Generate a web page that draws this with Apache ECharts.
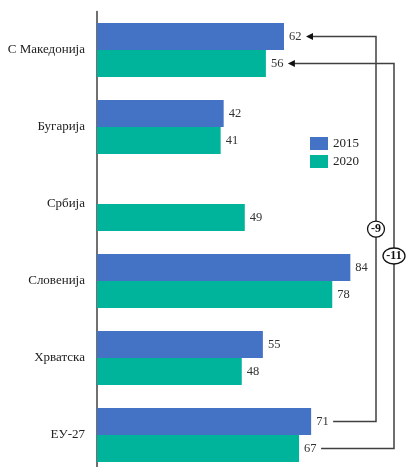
<!DOCTYPE html>
<html>
<head>
<meta charset="utf-8">
<script src="https://cdn.jsdelivr.net/npm/echarts@6/dist/echarts.min.js"></script>
<style>
html,body{margin:0;padding:0;background:#fff;}
#main{width:406px;height:467px;}
</style>
</head>
<body>
<div id="main"></div>
<script>
const categories = ['С Македонија', 'Бугарија', 'Србија', 'Словенија', 'Хрватска', 'ЕУ-27'];
const years = ['2015', '2020'];
const values2015 = [62, 42, null, 84, 55, 71];
const values2020 = [56, 41, 49, 78, 48, 67];
// brackets: compare first category with last category for each year
const brackets = [
  { seriesIndex: 0, from: 0, to: 5 },
  { seriesIndex: 1, from: 0, to: 5 }
];

const FONT = '"Liberation Serif", "Times New Roman", serif';
const colors = ['#4472C4', '#00B39B'];
const chart = echarts.init(document.getElementById('main'), null, { renderer: 'canvas' });

const option = {
  animation: false,
  backgroundColor: '#fff',
  color: colors,
  grid: { left: 97, top: 11.5, height: 462, width: 301.6, containLabel: false, outerBoundsMode: 'none' },
  legend: {
    orient: 'vertical',
    left: 310,
    top: 137,
    padding: 0,
    itemWidth: 18,
    itemHeight: 13,
    itemGap: 5,
    icon: 'rect',
    data: years,
    textStyle: { fontFamily: FONT, fontSize: 13, color: '#222' }
  },
  xAxis: { type: 'value', min: 0, max: 100, show: false },
  yAxis: {
    type: 'category',
    data: categories,
    inverse: true,
    axisLine: { show: true, lineStyle: { color: '#404040', width: 1.5 } },
    axisTick: { show: false },
    axisLabel: { margin: 12, fontFamily: FONT, fontSize: 13, color: '#222' },
    splitLine: { show: false }
  },
  series: [values2015, values2020].map((vals, i) => ({
    name: years[i],
    type: 'bar',
    data: vals,
    barGap: '0%',
    barCategoryGap: '30%',
    itemStyle: { color: colors[i] },
    label: {
      show: true,
      position: 'right',
      distance: 5,
      fontFamily: FONT,
      fontSize: 12.5,
      color: '#333'
    }
  }))
};
chart.setOption(option);

// annotation brackets, positioned from the chart's own scales
const seriesVals = [values2015, values2020];
const bracketX = [376, 394];
const graphics = [];
const c0 = chart.convertToPixel({ yAxisIndex: 0 }, categories[0]);
const c1 = chart.convertToPixel({ yAxisIndex: 0 }, categories[1]);
const band = c1 - c0;
const barOffset = [-0.175 * band, 0.175 * band];
const lineColor = '#404040';
brackets.forEach((b, k) => {
  const vals = seriesVals[b.seriesIndex];
  const yTop = chart.convertToPixel({ yAxisIndex: 0 }, categories[b.from]) + barOffset[b.seriesIndex];
  const yBot = chart.convertToPixel({ yAxisIndex: 0 }, categories[b.to]) + barOffset[b.seriesIndex];
  const xTip = chart.convertToPixel({ xAxisIndex: 0 }, vals[b.from]) + 22;
  const xStart = chart.convertToPixel({ xAxisIndex: 0 }, vals[b.to]) + 22;
  const xb = bracketX[k];
  graphics.push({
    type: 'polyline',
    shape: { points: [[xStart, yBot], [xb, yBot], [xb, yTop], [xTip + 5, yTop]] },
    style: { stroke: lineColor, lineWidth: 1.5, fill: null },
    z: 100
  });
  graphics.push({
    type: 'polygon',
    shape: { points: [[xTip, yTop], [xTip + 7, yTop - 3.5], [xTip + 7, yTop + 3.5]] },
    style: { fill: '#111', stroke: null },
    z: 101
  });
  const diff = vals[b.from] - vals[b.to];
  const txt = String(diff);
  const ym = (yTop + yBot) / 2;
  const rx = txt.length > 2 ? 11 : 8.5;
  graphics.push({
    type: 'ellipse',
    shape: { cx: xb, cy: ym, rx: rx, ry: 8 },
    style: { fill: '#fff', stroke: '#111', lineWidth: 1.3 },
    z: 102
  });
  graphics.push({
    type: 'text',
    x: xb,
    y: ym,
    style: {
      text: txt,
      fontFamily: FONT,
      fontSize: 12,
      fontWeight: 'bold',
      fill: '#111',
      align: 'center',
      verticalAlign: 'middle'
    },
    z: 103
  });
});
chart.setOption({ graphic: graphics });
</script>
</body>
</html>
